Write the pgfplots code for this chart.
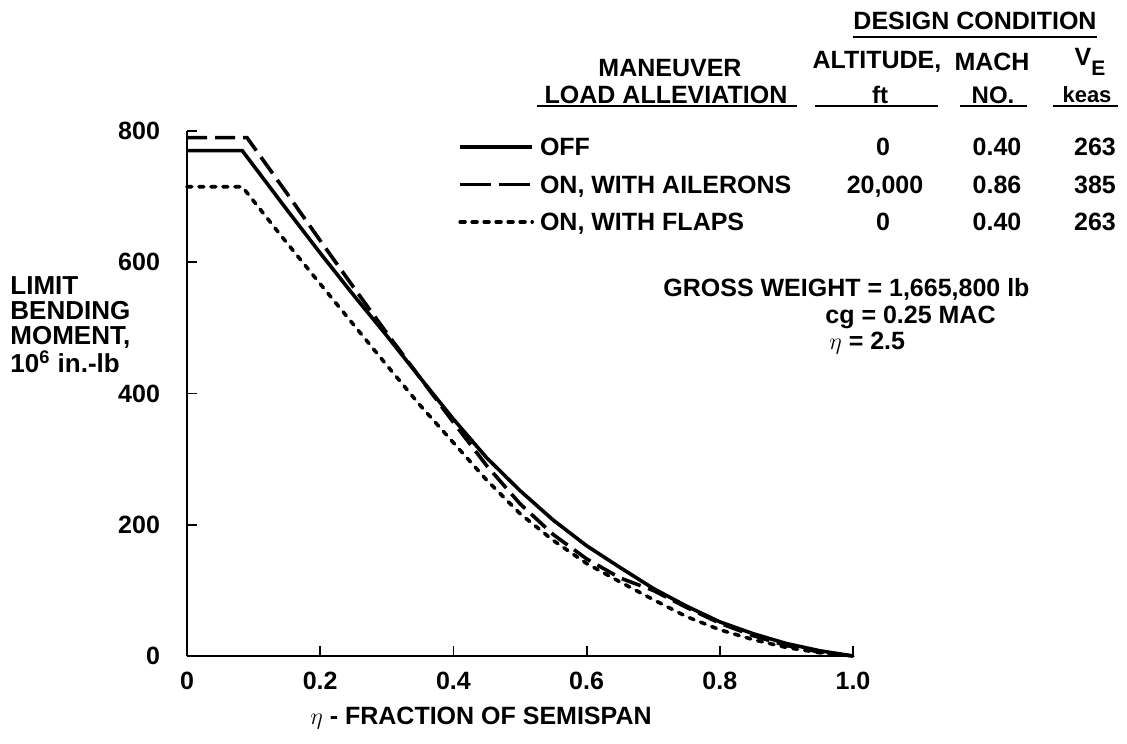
\documentclass[border=0pt]{standalone}
\usepackage{fontspec}
\setmainfont{Liberation Sans}
\usepackage{pgfplots}
\pgfplotsset{compat=1.18}
\newcommand\F{\fontsize{12.5}{15}\selectfont\bfseries}
\begin{document}
\begin{tikzpicture}
\begin{axis}[
  width=333pt, height=262.5pt, scale only axis,
  xmin=0, xmax=1, ymin=0, ymax=800,
  axis lines=left, axis line style={-, line width=1.4pt},
  tick align=inside, major tick length=5pt, tick style={line width=0.9pt, black},
  xtick={0,0.2,0.4,0.6,0.8,1}, xticklabels={0,0.2,0.4,0.6,0.8,1.0},
  ytick={0,200,400,600,800}, yticklabels={0,200,400,600,800},
  ticklabel style={font=\fontsize{12.5}{14}\selectfont\bfseries},
  /pgf/number format/assume math mode=true,
  xticklabel style={yshift=-4.5pt},
  yticklabel style={xshift=-10pt},
  clip=false,
  legend cell align=left,
  legend style={at={(axis cs:0.4069,718.5)}, anchor=west, draw=none, fill=none,
    inner sep=0pt, font=\F, row sep=9.75pt,
    nodes={inner sep=0pt, text height=9pt, text depth=0pt},
    /tikz/every odd column/.append style={column sep=3pt}},
  legend image code/.code={\draw[#1] (0pt,0pt) -- (36pt,0pt);},
]
\addplot[black, line width=1.8pt] coordinates {
(0,770) (0.083,770) (0.15,680) (0.2,614) (0.25,550) (0.3,488) (0.35,424) (0.4,361) (0.45,302) (0.5,252) (0.55,207) (0.6,168) (0.65,135) (0.7,103) (0.75,76) (0.8,52) (0.85,34) (0.9,19) (0.95,8) (1.0,0)};
\addlegendentry{OFF}
\addplot[black, line width=1.8pt, dash pattern=on 10pt off 4pt,
  legend image post style={dash pattern=on 15.5pt off 4pt}] coordinates {
(0,790) (0.09,790) (0.15,705) (0.2,633) (0.25,562) (0.3,492) (0.35,424) (0.4,356) (0.45,290) (0.5,232) (0.55,185) (0.6,148) (0.65,119) (0.7,100) (0.75,74) (0.8,50) (0.85,31) (0.9,16) (0.95,6) (1.0,0)};
\addlegendentry{ON, WITH AILERONS}
\addplot[black, line width=1.8pt, line cap=round, dash pattern=on 2.4pt off 3.6pt] coordinates {
(0,715) (0.083,715) (0.144,637) (0.2,567) (0.25,505) (0.3,443) (0.35,382) (0.4,325) (0.45,268) (0.5,217) (0.55,176) (0.6,141) (0.65,113) (0.7,86) (0.75,60) (0.8,40) (0.85,25) (0.9,13) (0.95,5) (1.0,0)};
\addlegendentry{ON, WITH FLAPS}
\end{axis}
\begin{scope}[x=0.5pt, y=-0.5pt, shift={(-93.5pt,328pt)}, every node/.style={inner sep=0pt, font=\F}]
\path (0,0) rectangle (1127,743);
\node at (975,21) {DESIGN CONDITION};
\draw[line width=1pt] (853,37) -- (1097,37);
\node at (670,68) {MANEUVER};
\node at (666,95) {LOAD ALLEVIATION};
\draw[line width=1pt] (537,106) -- (797,106);
\node at (877,62) {ALTITUDE,};
\node[font=\fontsize{12}{12}\selectfont\bfseries] at (880,95) {ft};
\draw[line width=1pt] (815,106) -- (938,106);
\node at (992,62) {MACH};
\node[font=\fontsize{12}{12}\selectfont\bfseries] at (993,95) {NO.};
\draw[line width=1pt] (960,106) -- (1027,106);
\node at (1090,62) {V\raisebox{-5pt}{\fontsize{10.5}{12}\selectfont E}};
\node[font=\fontsize{11}{12}\selectfont\bfseries] at (1087,95) {keas};
\draw[line width=1pt] (1053,106) -- (1118,106);
\begin{scope}[every node/.append style={anchor=base}]
\node at (883,156) {0}; \node at (997,156) {0.40}; \node at (1095,156) {263};
\node at (885,194) {20,000}; \node at (997,194) {0.86}; \node at (1095,194) {385};
\node at (883,231) {0}; \node at (997,231) {0.40}; \node at (1095,231) {263};
\end{scope}
\node[anchor=west] at (663,289) {GROSS WEIGHT = 1,665,800 lb};
\node[anchor=west] at (825,317) {cg = 0.25 MAC};
\node[anchor=west] at (829,343) {$\eta$ = 2.5};
\node[anchor=west, align=left, font=\fontsize{13}{12.7}\selectfont\bfseries] at (10,324.5) {LIMIT\\BENDING\\MOMENT,\\10\textsuperscript{6} in.-lb};
\node at (481,718) {$\eta$ - FRACTION OF SEMISPAN};
\end{scope}
\end{tikzpicture}
\end{document}
